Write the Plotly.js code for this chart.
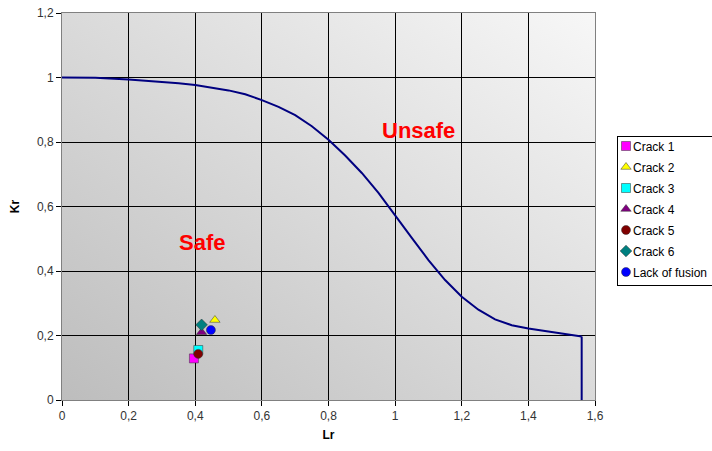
<!DOCTYPE html>
<html>
<head>
<meta charset="utf-8">
<script src="https://cdn.plot.ly/plotly-3.0.1.min.js"></script>
<style>html,body{margin:0;padding:0;background:#fff}#chart{width:712px;height:451px}</style>
</head>
<body>
<div id="chart"></div>
<script>
// Failure assessment curve
var curveLr = [0, 0.1, 0.2, 0.3, 0.35, 0.4, 0.45, 0.5, 0.55, 0.6, 0.65, 0.7, 0.75, 0.8, 0.85, 0.9, 0.95, 1.0, 1.05, 1.1, 1.15, 1.2, 1.25, 1.3, 1.35, 1.4, 1.45, 1.5, 1.56];
var curveKr = [1.0, 0.999, 0.994, 0.987, 0.982, 0.977, 0.969, 0.960, 0.948, 0.930, 0.909, 0.883, 0.849, 0.807, 0.758, 0.704, 0.642, 0.574, 0.503, 0.434, 0.372, 0.320, 0.280, 0.250, 0.232, 0.222, 0.213, 0.206, 0.197];
var cutoffLr = [1.56, 1.56];
var cutoffKr = [0.197, 0];

// Assessment points
var seriesNames = ['Crack 1', 'Crack 2', 'Crack 3', 'Crack 4', 'Crack 5', 'Crack 6', 'Lack of fusion'];
var pointLr = [0.396, 0.459, 0.409, 0.419, 0.409, 0.419, 0.447];
var pointKr = [0.129, 0.248, 0.155, 0.21, 0.143, 0.233, 0.217];
var symbols = ['square', 'triangle-up', 'square', 'triangle-up', 'circle', 'diamond', 'circle'];
var colors = ['#ff00ff', '#ffff00', '#00ffff', '#800080', '#800000', '#008080', '#0000ff'];

var xTicks = [0, 0.2, 0.4, 0.6, 0.8, 1, 1.2, 1.4, 1.6];
var yTicks = [0, 0.2, 0.4, 0.6, 0.8, 1, 1.2];

var traces = [{
  x: curveLr, y: curveKr, mode: 'lines', showlegend: false, hoverinfo: 'skip',
  line: {color: '#000080', width: 2}
}, {
  x: cutoffLr, y: cutoffKr, mode: 'lines', showlegend: false, hoverinfo: 'skip',
  line: {color: '#000080', width: 2}
}];
for (var i = 0; i < seriesNames.length; i++) {
  traces.push({
    x: [pointLr[i]], y: [pointKr[i]], mode: 'markers', name: seriesNames[i],
    marker: {symbol: symbols[i], color: colors[i], size: 9, line: {color: '#333', width: 0.5}}
  });
}

var grad = 'data:image/svg+xml;utf8,' + encodeURIComponent(
  '<svg xmlns="http://www.w3.org/2000/svg" width="100" height="100" preserveAspectRatio="none">' +
  '<defs><linearGradient id="g" x1="0" y1="1" x2="1" y2="0">' +
  '<stop offset="0" stop-color="#bdbdbd"/><stop offset="1" stop-color="#f7f7f7"/></linearGradient></defs>' +
  '<rect width="100" height="100" fill="url(#g)"/></svg>');

var layout = {
  width: 712, height: 451,
  margin: {l: 62, r: 117, t: 13, b: 51},
  paper_bgcolor: '#ffffff', plot_bgcolor: 'rgba(0,0,0,0)',
  separators: ',.',
  font: {family: 'Arial, Liberation Sans, sans-serif', size: 12, color: '#333'},
  xaxis: {
    range: [0, 1.6], tickvals: xTicks, ticktext: xTicks.map(function(v){return String(v).replace('.', ',');}),
    showgrid: true, gridcolor: '#000', gridwidth: 1, zeroline: false,
    ticks: 'outside', ticklen: 5, tickcolor: '#000', showline: true, linecolor: '#808080', mirror: true,
    title: {text: '<b>Lr</b>', font: {size: 12, color: '#000'}, standoff: 8}
  },
  yaxis: {
    range: [0, 1.2], tickvals: yTicks, ticktext: yTicks.map(function(v){return String(v).replace('.', ',');}),
    showgrid: true, gridcolor: '#000', gridwidth: 1, zeroline: false,
    ticks: 'outside', ticklen: 5, tickcolor: '#000', showline: true, linecolor: '#808080', mirror: true,
    title: {text: '<b>Kr</b>', font: {size: 12, color: '#000'}, standoff: 14}
  },
  images: [{source: grad, xref: 'x', yref: 'y', x: 0, y: 1.2, sizex: 1.6, sizey: 1.2,
    sizing: 'stretch', layer: 'below', xanchor: 'left', yanchor: 'top'}],
  legend: {
    xref: 'container', yref: 'container',
    x: 0.8666, y: 0.6984, xanchor: 'left', yanchor: 'top',
    bgcolor: '#fff', bordercolor: '#000', borderwidth: 1,
    font: {size: 12, color: '#000'}, tracegroupgap: 0, itemwidth: 30
  },
  annotations: [
    {x: 1.07, y: 0.835, xref: 'x', yref: 'y', text: '<b>Unsafe</b>', showarrow: false,
     font: {size: 22, color: '#ff0000', family: 'Arial, Liberation Sans, sans-serif'}},
    {x: 0.42, y: 0.487, xref: 'x', yref: 'y', text: '<b>Safe</b>', showarrow: false,
     font: {size: 22, color: '#ff0000', family: 'Arial, Liberation Sans, sans-serif'}}
  ]
};

var gd = document.getElementById('chart');
Plotly.newPlot(gd, traces, layout, {displayModeBar: false, staticPlot: true}).then(function () {
  // compact the legend like the original (narrow box, tighter text gap)
  var leg = gd.querySelector('.infolayer .legend');
  if (!leg) return;
  leg.setAttribute('transform', 'translate(617,136)');
  var bg = leg.querySelector('rect.bg');
  if (bg) { bg.setAttribute('width', 96); bg.setAttribute('height', 149); }
  var clip = document.querySelectorAll('clipPath[id^="legend"] rect');
  clip.forEach(function (r) { r.setAttribute('width', 96); r.setAttribute('height', 149); });
  var items = leg.querySelectorAll('g.traces');
  items.forEach(function (g, i) {
    g.setAttribute('transform', 'translate(0,' + (10 + i * 21) + ')');
    var pts = g.querySelector('.legendpoints');
    if (pts) pts.setAttribute('transform', 'translate(-11,0) scale(1)');
    var t = g.querySelector('.legendtext');
    if (t) t.setAttribute('x', 16);
  });
  var sb = leg.querySelector('.scrollbox');
  if (sb) sb.setAttribute('transform', 'translate(0,0)');
});
</script>
</body>
</html>
